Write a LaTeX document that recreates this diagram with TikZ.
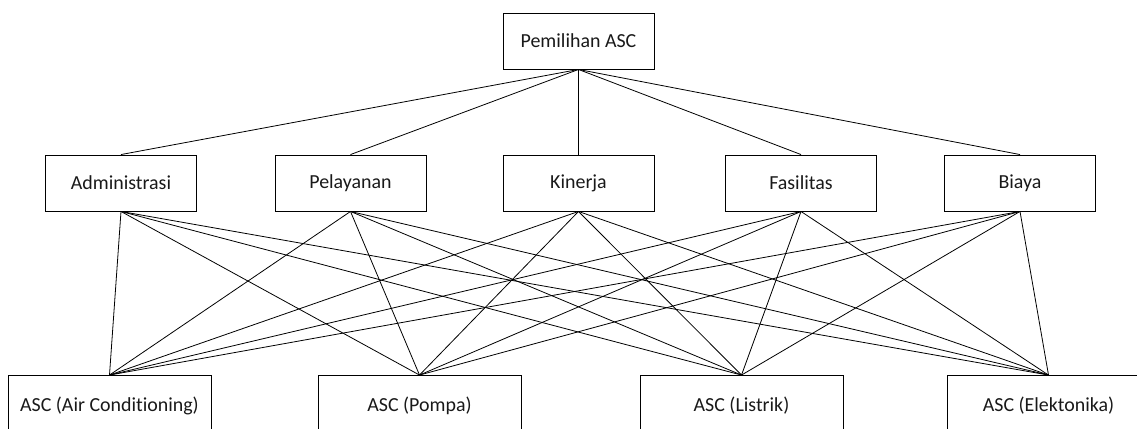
\documentclass[tikz,border=0pt]{standalone}
\usepackage{fontspec}
\setmainfont{Carlito}[Ligatures={NoCommon}]
\begin{document}
\begin{tikzpicture}[x=1bp,y=-1bp,
  box/.style={draw=black, line width=0.9bp, rectangle, inner sep=0pt,
    font=\fontsize{20}{23}\selectfont, text=black!90},
  mid/.style={box, minimum width=151bp, minimum height=56bp},
  low/.style={box, minimum width=203bp, minimum height=60bp},
  link/.style={line width=0.8bp, black}]
\useasboundingbox (0,0) rectangle (1137,428);
\clip (0,0) rectangle (1137,428);
\node[mid] (top) at (578.5,41) {Pemilihan ASC};
\node[mid] (m1) at (121,183) {Administrasi};
\node[mid] (m2) at (350.5,183) {Pelayanan};
\node[mid] (m3) at (578.5,183) {Kinerja};
\node[mid] (m4) at (801,183) {Fasilitas};
\node[mid] (m5) at (1020,183) {Biaya};
\node[low] (b1) at (109.5,405.5) {ASC (Air Conditioning)};
\node[low] (b2) at (419.5,405.5) {ASC (Pompa)};
\node[low] (b3) at (741.5,405.5) {ASC (Listrik)};
\node[low] (b4) at (1048.5,405.5) {ASC (Elektonika)};
\foreach \m in {m1,m2,m3,m4,m5}{
  \draw[link] (top.south) -- (\m.north);
  \foreach \b in {b1,b2,b3,b4}{
    \draw[link] (\m.south) -- (\b.north);
  }
}
\end{tikzpicture}
\end{document}
